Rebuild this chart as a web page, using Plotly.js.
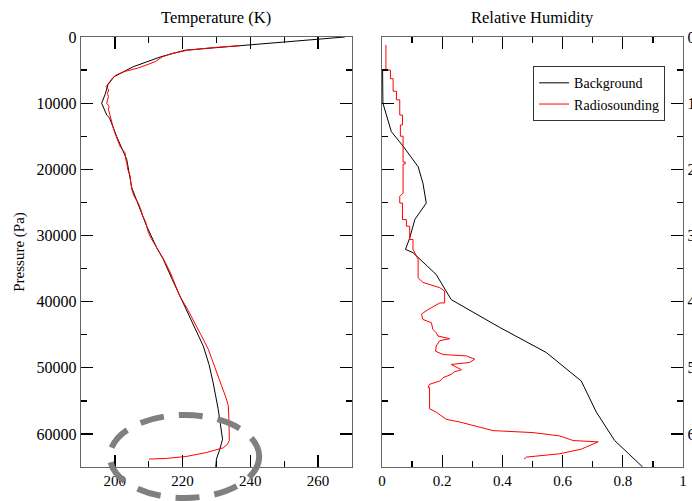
<!DOCTYPE html>
<html>
<head>
<meta charset="utf-8">
<script src="https://cdn.plot.ly/plotly-3.0.1.min.js"></script>
<style>html,body{margin:0;padding:0;background:#fff;}#chart{width:692px;height:501px;}</style>
</head>
<body>
<div id="chart"></div>
<script>
// Temperature (K) vs pressure (Pa)
const tempBgP = [0, 1200, 2000, 3000, 3700, 4500, 5000, 6000, 6500, 7200, 8700, 10000, 11800, 12200, 15000, 18500, 22800, 25500, 28600, 31800, 33600, 36500, 39700, 43000, 46700, 49500, 52200, 56200, 60800, 62300, 63800, 65000];
const tempBgT = [267.9, 239.9, 220.7, 213.5, 209.4, 205.4, 203.5, 199.8, 199.0, 198.0, 197.1, 196.1, 197.6, 198.4, 200.5, 203.5, 205.0, 207.0, 209.4, 212.3, 214.3, 216.8, 219.7, 222.8, 226.1, 227.8, 229.0, 230.5, 231.8, 231.0, 230.0, 229.8];

const tempRsP = [1300, 1600, 2000, 2500, 3000, 3700, 4200, 4700, 5200, 5700, 6200, 6700, 7100, 7500, 8000, 8500, 9000, 9500, 10000, 10500, 11000, 11500, 12000, 12500, 13500, 14500, 15500, 16500, 17000, 17500, 18500, 19000, 20000, 21000, 22000, 23000, 24000, 25100, 26000, 27000, 28000, 28600, 29600, 30500, 31800, 33600, 35500, 37500, 39200, 41000, 42700, 45000, 47200, 50000, 52700, 54500, 55700, 58000, 61000, 61600, 62100, 62800, 63400, 63700, 63800];
const tempRsT = [237.2, 229.0, 221.5, 216.8, 214.0, 212.0, 209.5, 206.8, 203.0, 200.5, 199.3, 198.6, 197.8, 197.4, 198.2, 197.8, 198.1, 197.9, 197.6, 198.3, 198.1, 198.4, 198.6, 199.0, 199.4, 200.0, 200.8, 201.5, 202.2, 203.0, 203.2, 203.5, 203.8, 204.5, 204.7, 205.0, 205.6, 206.9, 207.6, 208.2, 209.1, 209.4, 209.9, 210.8, 212.3, 214.4, 216.3, 217.9, 219.2, 221.3, 223.1, 225.4, 227.6, 229.5, 231.5, 232.8, 233.5, 233.7, 233.8, 233.2, 232.0, 227.1, 221.2, 215.3, 210.1];

// Relative humidity vs pressure (Pa)
const rhBgP = [5000, 5000, 10000, 14300, 16500, 19600, 22100, 25100, 27600, 30400, 32100, 32600, 35900, 39700, 43900, 47700, 52000, 56700, 61000, 64800, 65000];
const rhBgV = [0.009, 0.002, 0.003, 0.031, 0.070, 0.120, 0.136, 0.147, 0.109, 0.092, 0.078, 0.103, 0.180, 0.230, 0.391, 0.546, 0.662, 0.712, 0.773, 0.862, 0.866];

const rhRsP = [1200, 5000, 5000, 6300, 6300, 8200, 8200, 9500, 9500, 11800, 11800, 13300, 13300, 15000, 15000, 18900, 18900, 19200, 19200, 23600, 24100, 25100, 25100, 27600, 27600, 28600, 28600, 30600, 30600, 32100, 33600, 36400, 37100, 37900, 38400, 40200, 40200, 41200, 41900, 42700, 43200, 44200, 44700, 45200, 45600, 45900, 46700, 47500, 48000, 48200, 48700, 49200, 49500, 50300, 50600, 51000, 51500, 52000, 52500, 53000, 53000, 56200, 56700, 57800, 58200, 59500, 59800, 60300, 61000, 61200, 62300, 63000, 63500, 63800];
const rhRsV = [0.013, 0.013, 0.028, 0.028, 0.037, 0.037, 0.048, 0.048, 0.059, 0.059, 0.068, 0.068, 0.061, 0.061, 0.070, 0.070, 0.077, 0.077, 0.070, 0.070, 0.059, 0.059, 0.068, 0.068, 0.081, 0.081, 0.092, 0.092, 0.103, 0.103, 0.120, 0.120, 0.136, 0.192, 0.208, 0.208, 0.192, 0.153, 0.131, 0.136, 0.164, 0.169, 0.180, 0.186, 0.225, 0.192, 0.180, 0.178, 0.203, 0.280, 0.308, 0.291, 0.230, 0.264, 0.241, 0.230, 0.203, 0.192, 0.158, 0.153, 0.158, 0.158, 0.180, 0.214, 0.258, 0.369, 0.502, 0.590, 0.635, 0.718, 0.662, 0.590, 0.480, 0.472];

const seriesNames = ['Background', 'Radiosounding'];
const panelTitles = ['Temperature (K)', 'Relative Humidity'];

const FONT = 'Liberation Serif, Times New Roman, serif';

const traces = [
  {x: tempBgT, y: tempBgP, xaxis: 'x', yaxis: 'y', type: 'scatter', mode: 'lines',
   line: {color: '#000000', width: 1}, name: seriesNames[0], showlegend: false},
  {x: tempRsT, y: tempRsP, xaxis: 'x', yaxis: 'y', type: 'scatter', mode: 'lines',
   line: {color: '#ff0000', width: 1}, name: seriesNames[1], showlegend: false},
  {x: rhBgV, y: rhBgP, xaxis: 'x2', yaxis: 'y2', type: 'scatter', mode: 'lines',
   line: {color: '#000000', width: 1}, name: seriesNames[0]},
  {x: rhRsV, y: rhRsP, xaxis: 'x2', yaxis: 'y2', type: 'scatter', mode: 'lines',
   line: {color: '#ff0000', width: 1}, name: seriesNames[1]}
];

const axBase = {
  showgrid: false, zeroline: false, showline: true, linecolor: '#666666', linewidth: 1.3,
  mirror: 'allticks', ticks: 'inside', ticklen: 12, tickwidth: 1.3, tickcolor: '#000000',
  color: '#000000'
};

const layout = {
  width: 692, height: 501,
  margin: {l: 81, r: 9, t: 37, b: 34},
  paper_bgcolor: '#ffffff', plot_bgcolor: '#ffffff',
  font: {family: FONT, color: '#000000', size: 15},
  showlegend: true,
  legend: {x: 0.751, y: 0.932, xanchor: 'left', yanchor: 'top', bgcolor: '#ffffff',
           bordercolor: '#333333', borderwidth: 1, font: {family: FONT, size: 14, color: '#000'},
           tracegroupgap: 0},
  xaxis: Object.assign({}, axBase, {
    domain: [0, 0.45], range: [190, 270], tick0: 200, dtick: 20, anchor: 'y',
    tickfont: {family: FONT, size: 15},
    minor: {dtick: 10, ticklen: 6, ticks: 'inside', tickcolor: '#000', tickwidth: 1.3, showgrid: false}
  }),
  yaxis: Object.assign({}, axBase, {
    domain: [0, 1], range: [65000, 0], dtick: 10000, tick0: 0, anchor: 'x',
    tickformat: 'd', tickfont: {family: FONT, size: 16},
    minor: {dtick: 5000, ticklen: 6, ticks: 'inside', tickcolor: '#000', tickwidth: 1.3, showgrid: false},
    title: {text: 'Pressure (Pa)', font: {family: FONT, size: 15}, standoff: 8}
  }),
  xaxis2: Object.assign({}, axBase, {
    domain: [0.5, 1], range: [0, 1], tick0: 0, dtick: 0.2, anchor: 'y2',
    tickfont: {family: FONT, size: 15},
    minor: {dtick: 0.1, ticklen: 6, ticks: 'inside', tickcolor: '#000', tickwidth: 1.3, showgrid: false}
  }),
  yaxis2: Object.assign({}, axBase, {
    domain: [0, 1], range: [65000, 0], dtick: 10000, tick0: 0, anchor: 'x2', side: 'right',
    tickformat: 'd', tickfont: {family: FONT, size: 16},
    minor: {dtick: 5000, ticklen: 6, ticks: 'inside', tickcolor: '#000', tickwidth: 1.3, showgrid: false}
  }),
  annotations: [
    {text: panelTitles[0], xref: 'paper', yref: 'paper', x: 0.225, y: 1, xanchor: 'center', yanchor: 'bottom',
     yshift: 8, showarrow: false, font: {family: FONT, size: 16.5, color: '#000'}},
    {text: panelTitles[1], xref: 'paper', yref: 'paper', x: 0.75, y: 1, xanchor: 'center', yanchor: 'bottom',
     yshift: 8, showarrow: false, font: {family: FONT, size: 16.5, color: '#000'}}
  ],
  shapes: [
    {type: 'circle', xref: 'paper', yref: 'paper', x0: 0.048, x1: 0.296, y0: -0.072, y1: 0.121,
     layer: 'above', line: {color: '#808080', width: 6, dash: '24px,15px'}, fillcolor: 'rgba(0,0,0,0)'}
  ]
};

Plotly.newPlot('chart', traces, layout, {staticPlot: true, displayModeBar: false});
</script>
</body>
</html>
